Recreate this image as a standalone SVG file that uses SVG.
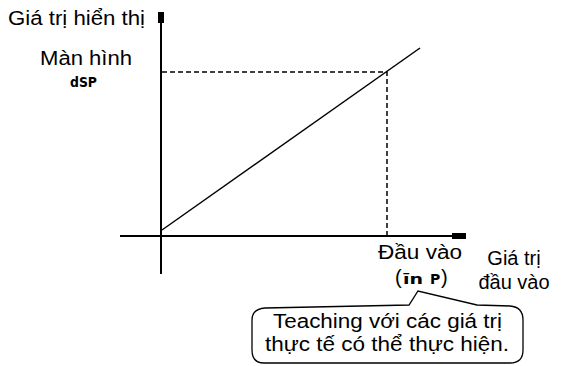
<svg xmlns="http://www.w3.org/2000/svg" width="562" height="366" viewBox="0 0 562 366">
<style>
.t{font-family:"Liberation Sans",Arial,sans-serif;font-size:20px;fill:#000}
.seg{font-family:"DejaVu Sans","Liberation Sans",sans-serif;font-size:14px;font-weight:bold;fill:#000}
.ax{stroke:#000;stroke-width:2;fill:none}
.dash{stroke:#000;stroke-width:1.5;stroke-dasharray:5,3;fill:none}
</style>
<rect width="562" height="366" fill="#fff"/>
<g id="connectors">
<line class="ax" x1="161" y1="22" x2="161" y2="274"/>
<rect x="158" y="12" width="6" height="11" fill="#000"/>
<line class="ax" x1="120" y1="236" x2="454" y2="236"/>
<rect x="452" y="233" width="14" height="6" fill="#000"/>
<line x1="162" y1="230" x2="420" y2="48" stroke="#000" stroke-width="1.5"/>
<polyline class="dash" points="162,72 387,72 387,236"/>
</g>
<g id="y-label"><text class="t" x="8" y="25" textLength="137" lengthAdjust="spacingAndGlyphs">Giá trị hiển thị</text></g>
<g id="display-label">
<text class="t" x="40" y="65" textLength="92" lengthAdjust="spacingAndGlyphs">Màn hình</text>
<text class="seg" x="70" y="87" textLength="27" lengthAdjust="spacingAndGlyphs">dSP</text>
</g>
<g id="input-label">
<text class="t" x="378" y="259" textLength="84" lengthAdjust="spacingAndGlyphs">Đầu vào</text>
<text class="t" x="395" y="284">(<tspan class="seg" x="403" y="284" textLength="20" lengthAdjust="spacingAndGlyphs">īn</tspan><tspan class="seg" x="430" y="284">P</tspan><tspan x="441" y="284">)</tspan></text>
</g>
<g id="x-label">
<text class="t" x="514" y="265" text-anchor="middle">Giá trị</text>
<text class="t" x="514" y="289" text-anchor="middle">đầu vào</text>
</g>
<g id="callout">
<path d="M265,308 L409,305 L418,291 L477,305 L510,306 Q523,307 523,320 L523,350 Q523,363 510,363 L264,363 Q252,363 252,350 L252,320 Q252,309 265,308 Z" fill="#fff" stroke="#000" stroke-width="1.3"/>
<text class="t" x="273" y="328" textLength="229" lengthAdjust="spacingAndGlyphs">Teaching với các giá trị</text>
<text class="t" x="265" y="351" textLength="244" lengthAdjust="spacingAndGlyphs">thực tế có thể thực hiện.</text>
</g>
</svg>
